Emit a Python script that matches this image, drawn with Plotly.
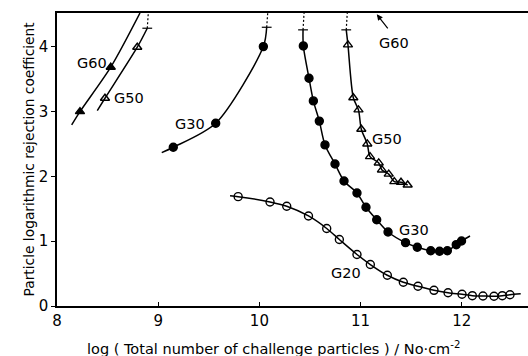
import plotly.graph_objects as go

# ---- data ----
# G20 open circles
g20_x = [9.79, 10.105, 10.27, 10.485, 10.665, 10.79, 10.964, 11.096, 11.264, 11.422,
         11.567, 11.725, 11.864, 12.002, 12.104, 12.209, 12.318, 12.40, 12.476]
g20_y = [1.687, 1.605, 1.538, 1.389, 1.196, 1.026, 0.795, 0.640, 0.474, 0.366,
         0.304, 0.242, 0.205, 0.181, 0.159, 0.154, 0.150, 0.159, 0.174]
g20_start = (9.71, 1.70)
g20_end = (12.582, 0.189)

# G30 right branch, filled circles
g30r_x = [10.434, 10.49, 10.533, 10.592, 10.648, 10.747, 10.836, 10.964, 11.053, 11.159,
          11.271, 11.444, 11.56, 11.693, 11.78, 11.857, 11.945, 11.997]
g30r_y = [4.012, 3.514, 3.164, 2.852, 2.485, 2.191, 1.929, 1.744, 1.523, 1.330,
          1.142, 0.977, 0.906, 0.853, 0.844, 0.853, 0.946, 1.003]
g30r_top = (10.431, 4.26)
g30r_end = (12.081, 1.08)

# G30 left branch, filled circles
g30l_x = [9.149, 9.568, 10.039]
g30l_y = [2.449, 2.819, 4.002]
g30l_start = (9.035, 2.366)
g30l_top = (10.072, 4.30)

# G50 left branch, open triangles
g50l_x = [8.474, 8.793]
g50l_y = [3.205, 3.992]
g50l_start = (8.398, 3.014)
g50l_top = (8.892, 4.285)

# G50 right branch, open triangles
g50r_x = [10.875, 10.928, 10.979, 11.007, 11.066, 11.093, 11.179, 11.211, 11.278,
          11.333, 11.399, 11.465]
g50r_y = [4.028, 3.213, 3.025, 2.727, 2.500, 2.304, 2.207, 2.099, 2.034,
          1.918, 1.909, 1.867]
g50r_top = (10.858, 4.26)

# G60 left branch, filled triangles
g60_x = [8.227, 8.531]
g60_y = [2.998, 3.684]
g60_start = (8.145, 2.793)
g60_top = (8.82, 4.52)

YMAX = 4.52
XMIN, XMAX = 8.0, 12.654

labels = ["G60", "G50", "G30", "G50", "G30", "G20"]
label_x = [8.346, 8.707, 9.319, 11.261, 11.528, 10.856]
label_y = [3.75, 3.21, 2.809, 2.577, 1.173, 0.509]
g60r_label = (11.33, 4.06)
g60r_arrow_tip = (11.16, 4.50)

x_ticks = [8, 9, 10, 11, 12]
y_ticks = [0, 1, 2, 3, 4]

FONT = "DejaVu Sans"
LW = 1.5
fig = go.Figure()


def curve(xs, ys, dash="solid"):
    fig.add_trace(go.Scatter(x=xs, y=ys, mode="lines",
                             line=dict(color="black", width=LW, shape="spline",
                                       smoothing=0.8, dash=dash),
                             hoverinfo="skip", showlegend=False))


def marks(xs, ys, symbol, size):
    fig.add_trace(go.Scatter(x=xs, y=ys, mode="markers",
                             marker=dict(symbol=symbol, size=size, color="black",
                                         line=dict(color="black", width=1.4)),
                             showlegend=False))


def topdots(pt):
    fig.add_trace(go.Scatter(x=[pt[0], pt[0] + 0.01], y=[pt[1], YMAX], mode="lines",
                             line=dict(color="black", width=1.2, dash="2px,2px"),
                             showlegend=False))
    fig.add_trace(go.Scatter(x=[pt[0]], y=[pt[1]], mode="markers",
                             marker=dict(symbol="line-ew", size=7,
                                         line=dict(color="black", width=1.2)),
                             showlegend=False))


# G20
curve([g20_start[0]] + g20_x + [g20_end[0]], [g20_start[1]] + g20_y + [g20_end[1]])
marks(g20_x, g20_y, "circle-open", 8)
# G30 right
curve([g30r_top[0]] + g30r_x + [g30r_end[0]], [g30r_top[1]] + g30r_y + [g30r_end[1]])
topdots(g30r_top)
marks(g30r_x, g30r_y, "circle", 8)
# G30 left
curve([g30l_start[0]] + g30l_x + [g30l_top[0]], [g30l_start[1]] + g30l_y + [g30l_top[1]])
topdots(g30l_top)
marks(g30l_x, g30l_y, "circle", 8)
# G50 left
curve([g50l_start[0]] + g50l_x + [g50l_top[0]], [g50l_start[1]] + g50l_y + [g50l_top[1]])
topdots(g50l_top)
marks(g50l_x, g50l_y, "triangle-up-open", 8)
# G50 right
curve([g50r_top[0]] + g50r_x, [g50r_top[1]] + g50r_y)
topdots(g50r_top)
marks(g50r_x, g50r_y, "triangle-up-open", 8)
# G60 left
curve([g60_start[0]] + g60_x + [g60_top[0]], [g60_start[1]] + g60_y + [g60_top[1]])
marks(g60_x, g60_y, "triangle-up", 8)

for t, x, y in zip(labels, label_x, label_y):
    fig.add_annotation(x=x, y=y, text=t, showarrow=False,
                       font=dict(family=FONT, size=14.5, color="black"))

fig.add_annotation(x=g60r_label[0], y=g60r_label[1], text="G60", showarrow=False,
                   font=dict(family=FONT, size=14.5, color="black"))
fig.add_annotation(x=g60r_arrow_tip[0], y=g60r_arrow_tip[1],
                   ax=g60r_label[0] - 0.05, ay=g60r_label[1] + 0.2,
                   axref="x", ayref="y", text="", showarrow=True,
                   arrowhead=2, arrowsize=1, arrowwidth=1.2, arrowcolor="black")

fig.add_annotation(x=10.144, y=0, xref="x", yref="paper", yanchor="middle", yshift=-42,
                   text="log ( Total number of challenge particles ) / No·cm<sup>-2</sup>",
                   showarrow=False, font=dict(family=FONT, size=14.5, color="black"))
fig.add_annotation(x=0, y=0.5, xref="paper", yref="paper", xshift=-39,
                   text="Particle logarithmic rejection coefficient", textangle=-90,
                   showarrow=False, font=dict(family=FONT, size=13.8, color="black"))

fig.update_layout(
    width=528, height=356,
    margin=dict(l=57, r=0, t=13, b=50),
    paper_bgcolor="white", plot_bgcolor="white",
    font=dict(family=FONT, size=15, color="black"),
    xaxis=dict(range=[XMIN, XMAX], tickvals=x_ticks, showgrid=False, zeroline=False,
               showline=True, linecolor="black", linewidth=1.5, mirror=True,
               ticks="inside", ticklen=4, tickcolor="black"),
    yaxis=dict(range=[0, YMAX], tickvals=y_ticks, showgrid=False, zeroline=False,
               showline=True, linecolor="black", linewidth=1.5,
               ticks="outside", ticklen=4, tickcolor="black"),
)

fig.write_html("out.html")
